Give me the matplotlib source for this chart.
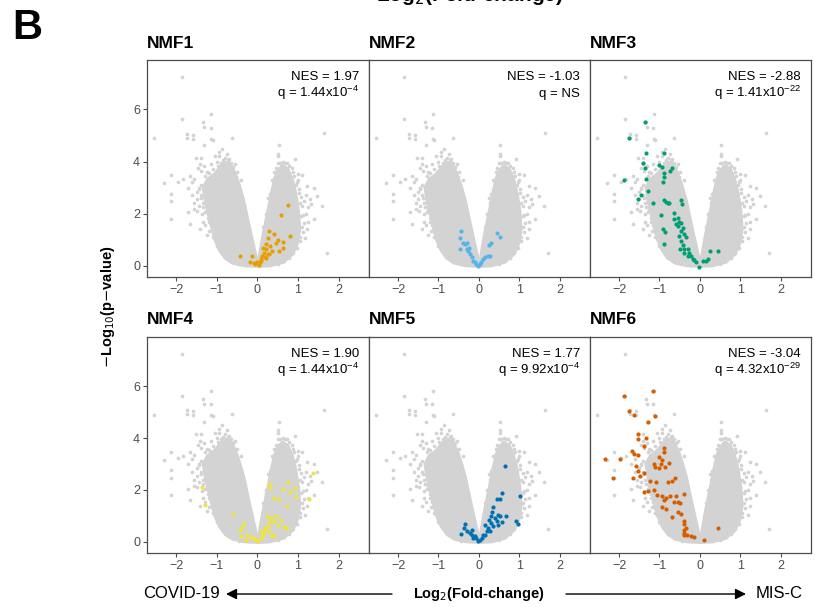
import matplotlib
matplotlib.use("Agg")
import matplotlib.pyplot as plt
from matplotlib.patches import Polygon

plt.rcParams["font.family"] = ["Liberation Sans", "DejaVu Sans"]

# shared gene cloud (same genes in every panel): dense cores + scattered genes
lobe_left_x = [0.00, -0.30, -0.60, -0.78, -0.92, -1.03, -1.10, -1.18, -1.27, -1.32, -1.22, -1.05,
               -0.92, -0.80, -0.68, -0.58, -0.46, -0.35, -0.24, -0.14, -0.06, -0.01]
lobe_left_y = [0.00, 0.02, 0.12, 0.30, 0.60, 1.00, 1.40, 1.90, 2.50, 3.00, 3.30, 3.50,
               3.75, 3.95, 3.90, 3.60, 3.10, 2.50, 1.70, 1.00, 0.45, 0.15]
lobe_right_x = [0.03, 0.07, 0.13, 0.20, 0.28, 0.36, 0.44, 0.52, 0.62, 0.74, 0.84, 0.93,
                1.00, 1.03, 0.97, 0.85, 0.62, 0.30]
lobe_right_y = [0.00, 0.45, 1.00, 1.55, 2.15, 2.80, 3.35, 3.65, 3.82, 3.70, 3.35, 2.80,
                2.10, 1.40, 0.85, 0.45, 0.15, 0.02]

bg_x = [-1.85, -1.86, -1.14, -1.33, -1.32, -1.15, -2.55, -1.74, -1.73, -1.58, -1.58, -1.14, -1.10,
        -0.63, -1.32, -0.86, 1.63, 0.53, 0.52, 0.52, 0.92, -2.12, -2.30, -1.95, -1.84, -2.12,
        -2.12, -2.12, -1.65, -1.56, -1.52, -1.40, -1.42, -1.32, 1.71, 1.60, 1.40, 1.48, 1.23,
        0.99, 1.11, 1.15, 1.32, 1.40, 1.23, 0.91, -1.42, -1.65, -1.56, -1.36, -1.19, -0.95,
        -1.45, -1.40, -1.35, -1.45, -1.25, -1.15, -1.00, -0.95, -0.80, -0.72, -0.55, -0.50,
        -1.25, -1.20, -1.10, -1.00, -0.85, -0.65, -0.45, -1.50, -1.60, -1.30, -0.40,
        0.35, 0.42, 0.55, 0.68, 0.78, 0.88, 0.95, 1.02, 1.05, 1.08, 1.10, 1.05, 0.95, 0.80,
        0.60, 0.20, 0.25, 0.15, 1.20, 1.00,
        -1.47, -1.38, -1.28, -1.20, -1.10, -1.05, -0.98, -0.90, -0.85, -0.70, -0.65, -0.60,
        -0.52, -1.40, -1.45, -1.38, -1.50, -1.33, -1.28, -1.22, -1.15, -1.10, -1.05, -0.98,
        -0.90, -0.80, -0.70, -0.60, -0.45, -1.60, -1.70, -1.55, -1.48, -1.35, -1.30, -1.70,
        -1.25, -0.75, -0.95, -1.05,
        0.45, 0.50, 0.62, 0.72, 0.85, 0.90, 0.98, 1.02, 1.08, 1.10, 1.12, 1.15, 1.12, 1.05,
        0.98, 0.88, 0.78, 0.65, 0.50, 0.30, 0.28, 0.22, 0.18, 0.12, 0.40, 1.20, 1.25, 1.30,
        1.18, 1.25]
bg_y = [7.24, 5.62, 5.81, 5.52, 5.33, 5.30, 4.89, 5.07, 4.92, 5.03, 4.88, 4.88, 4.84,
        4.92, 4.62, 4.50, 5.08, 4.64, 4.30, 4.20, 4.09, 3.47, 3.17, 3.22, 3.32, 2.77,
        2.48, 1.79, 3.45, 3.35, 4.15, 4.15, 3.90, 3.83, 0.51, 2.30, 3.00, 2.68, 3.07,
        3.51, 3.47, 2.49, 2.36, 1.79, 1.40, 1.21, 1.40, 1.60, 2.17, 1.98, 1.34, 0.96,
        3.00, 2.70, 2.40, 2.30, 3.60, 3.90, 4.00, 4.20, 4.15, 4.05, 3.90, 3.60,
        2.15, 1.70, 1.10, 0.75, 0.55, 0.30, 0.10, 2.85, 2.70, 2.90, 3.30,
        3.30, 3.60, 3.95, 3.95, 3.85, 3.60, 3.10, 2.80, 2.40, 1.90, 1.50, 1.10, 0.70, 0.45,
        0.25, 2.00, 2.60, 1.50, 2.00, 3.30,
        3.75, 3.62, 3.45, 3.55, 3.70, 3.45, 3.85, 3.95, 4.05, 4.10, 3.95, 3.80,
        3.40, 3.10, 2.95, 2.60, 2.55, 2.25, 2.05, 1.85, 1.55, 1.30, 1.05, 0.80,
        0.60, 0.40, 0.25, 0.15, 0.05, 3.20, 3.00, 2.40, 2.10, 1.70, 1.55, 2.05,
        1.20, 4.30, 4.35, 4.20,
        3.75, 3.95, 4.00, 3.95, 3.75, 3.45, 3.20, 2.95, 2.65, 2.30, 1.95, 1.65, 1.30, 0.95,
        0.70, 0.50, 0.30, 0.18, 0.08, 2.75, 2.40, 1.85, 1.20, 0.85, 3.30, 2.70, 2.25, 2.55,
        1.05, 1.70]

# highlighted gene-set members per panel
nmf1_x = [0.76, 0.58, 0.29, 0.40, 0.27, 0.52, 0.64, 0.80, 0.45, 0.63, 0.53, 0.31, 0.21, 0.16,
          0.25, 0.12, 0.18, 0.09, 0.29, 0.37, 0.22, 0.14, -0.43, -0.14, -0.18, -0.05, 0.04,
          -0.08, 0.00, 0.10, 0.06, 0.20]
nmf1_y = [2.32, 1.94, 1.34, 1.21, 1.05, 1.00, 0.92, 1.15, 0.86, 0.68, 0.57, 0.77, 0.64, 0.51,
          0.45, 0.38, 0.32, 0.25, 0.45, 0.57, 0.85, 0.70, 0.36, 0.36, 0.13, 0.07, 0.04,
          0.10, 0.13, 0.20, 0.15, 0.30]
nmf2_x = [-0.45, -0.47, -0.39, -0.30, -0.47, -0.30, -0.26, -0.22, -0.18, -0.14, -0.10, -0.06,
          -0.02, 0.02, 0.06, 0.11, 0.16, 0.23, 0.27, 0.46, 0.52, 0.30, 0.25, -0.35, -0.25]
nmf2_y = [1.32, 1.06, 0.87, 0.87, 0.64, 0.64, 0.57, 0.45, 0.32, 0.19, 0.13, 0.06,
          0.00, 0.06, 0.15, 0.25, 0.32, 0.36, 0.38, 1.24, 1.09, 0.86, 0.79, 0.82, 0.70]
nmf3_x = [-1.35, -1.75, -1.34, -0.88, -1.40, -1.36, -1.01, -0.95, -0.68, -0.73, -0.88, -0.90,
          -1.34, -1.87, -0.92, -1.29, -1.46, -1.52, -1.17, -0.88, -0.84, -0.80, -0.76, -0.47,
          -0.45, -0.63, -0.55, -0.63, -0.51, -0.47, -0.55, -0.43, -0.47, -0.39, -0.35, -0.47,
          -0.96, -0.92, -0.87, -0.90, -0.49, -0.39, -0.30, -0.26, -0.22, -0.18, -0.14, -0.10,
          -0.29, -0.39, -0.02, 0.07, 0.15, 0.21, 0.24, 0.45, -0.60, -0.52, -0.42]
nmf3_y = [5.53, 4.92, 4.32, 4.32, 3.93, 3.77, 3.87, 3.81, 3.74, 3.63, 3.55, 3.42,
          3.35, 3.28, 3.22, 2.87, 2.72, 2.55, 2.40, 2.52, 2.46, 2.42, 2.40, 2.52,
          2.36, 2.02, 1.85, 1.79, 1.69, 1.66, 1.53, 1.47, 1.34, 1.21, 1.09, 0.96,
          1.94, 1.43, 1.30, 0.83, 0.64, 0.66, 0.64, 0.51, 0.38, 0.28, 0.23, 0.13,
          0.36, 0.49, -0.03, 0.19, 0.19, 0.26, 0.57, 0.57, 1.60, 1.15, 0.80]
nmf4_x = [-1.37, -1.29, 1.38, 1.26, 0.29, 0.31, 0.76, 0.93, 0.62, 0.80, 0.40, 0.53, 0.95, 0.72,
          0.23, 0.33, 0.45, 0.29, 0.41, 0.58, 0.51, 0.66, 0.74, 0.25, 0.16, 0.29, 0.41, 0.37,
          0.15, 0.08, 0.02, -0.04, -0.08, -0.16, -0.25, -0.37, -0.33, -0.43, -0.59, -0.41,
          -0.29, 0.18, 0.10]
nmf4_y = [2.13, 1.43, 2.64, 1.64, 2.25, 2.06, 2.32, 2.06, 2.04, 1.94, 1.71, 1.66, 1.72, 1.40,
          0.98, 0.92, 0.98, 0.76, 0.82, 0.85, 0.66, 0.56, 0.54, 0.60, 0.41, 0.41, 0.28, 0.24,
          0.25, 0.15, 0.05, 0.09, 0.15, 0.18, 0.25, 0.56, 0.73, 0.47, 1.07, 0.22,
          0.09, 0.54, 0.38]
nmf5_x = [0.64, 1.01, 0.58, 0.46, 0.53, 0.35, 0.33, 0.48, 0.52, 0.39, 0.31, 0.25, 0.44, 0.56,
          0.68, 0.48, 0.35, 0.23, 0.30, 0.15, 0.19, 0.11, 0.07, 0.02, -0.02, -0.06, -0.10,
          -0.14, -0.18, -0.22, -0.16, -0.34, -0.36, -0.30, -0.45, 0.15, 0.27, 0.93, 0.97]
nmf5_y = [2.93, 1.78, 1.90, 1.64, 1.64, 1.36, 1.17, 1.04, 0.98, 0.92, 0.98, 0.85, 0.79, 0.76,
          0.98, 0.66, 0.60, 0.54, 0.73, 0.66, 0.41, 0.25, 0.15, 0.09, 0.05, 0.13, 0.22,
          0.15, 0.25, 0.34, 0.47, 0.69, 0.54, 0.43, 0.31, 0.28, 0.41, 0.82, 0.69]
nmf6_x = [-1.15, -1.87, -1.76, -1.62, -1.11, -1.28, -1.54, -1.53, -1.34, -1.38, -1.68, -1.62,
          -1.53, -2.34, -1.98, -0.88, -0.88, -1.01, -0.95, -0.76, -1.13, -1.11, -0.96, -0.87,
          -1.01, -1.58, -1.53, -1.49, -1.39, -1.65, -2.14, -1.23, -1.09, -0.80, -0.68, -0.62,
          -1.28, -1.38, -1.13, -1.05, -0.95, -0.84, -0.88, -0.73, -0.59, -0.54, -0.49, -0.64,
          -0.40, -0.95, -0.84, -0.69, -0.55, -0.47, -0.39, -0.40, -0.35, -0.40, -0.31, -0.22,
          -0.14, 0.09, -0.39, -0.39, 0.45]
nmf6_y = [5.82, 5.61, 5.06, 4.89, 4.87, 4.64, 4.17, 3.97, 4.01, 3.68, 3.49, 3.40,
          3.34, 3.18, 3.18, 3.63, 3.46, 3.27, 3.17, 3.06, 2.99, 2.89, 2.99, 2.89,
          2.83, 2.93, 2.73, 2.55, 2.66, 2.47, 2.48, 2.34, 2.29, 2.32, 2.34, 2.45,
          1.96, 1.91, 2.00, 1.81, 1.78, 1.68, 1.62, 1.75, 1.75, 1.55, 1.50, 1.53,
          1.83, 1.36, 1.27, 0.94, 1.17, 1.07, 0.82, 0.69, 0.54, 0.34, 0.25, 0.22,
          0.18, 0.06, 0.45, 0.28, 0.54]

titles = ["NMF1", "NMF2", "NMF3", "NMF4", "NMF5", "NMF6"]
nes = ["1.97", "-1.03", "-2.88", "1.90", "1.77", "-3.04"]
q_vals = [r"q = 1.44x10$^{\mathregular{-4}}$", "q = NS", r"q = 1.41x10$^{\mathregular{-22}}$",
          r"q = 1.44x10$^{\mathregular{-4}}$", r"q = 9.92x10$^{\mathregular{-4}}$",
          r"q = 4.32x10$^{\mathregular{-29}}$"]
hi_x = [nmf1_x, nmf2_x, nmf3_x, nmf4_x, nmf5_x, nmf6_x]
hi_y = [nmf1_y, nmf2_y, nmf3_y, nmf4_y, nmf5_y, nmf6_y]
colors = ["#E69F00", "#56B4E9", "#009E73", "#F0E442", "#0072B2", "#D55E00"]

W, H = 815, 607
fig = plt.figure(figsize=(W / 100, H / 100), dpi=100)

grey = "#D3D3D3"
lefts = [147, 369, 590]
rights = [369, 590, 811]
tops = [60, 337]
bottoms = [277, 553]

for i in range(6):
    r, c = divmod(i, 3)
    ph = bottoms[r] - tops[r]
    ax = fig.add_axes([lefts[c] / W, 1 - bottoms[r] / H, (rights[c] - lefts[c]) / W, ph / H])
    for lx, ly in [(lobe_left_x, lobe_left_y), (lobe_right_x, lobe_right_y)]:
        ax.add_patch(Polygon(list(zip(lx, ly)), closed=True, facecolor=grey,
                             edgecolor=grey, lw=3, joinstyle="round", zorder=1))
    ax.scatter(bg_x, bg_y, s=7, color=grey, linewidths=0, zorder=2)
    ax.scatter(hi_x[i], hi_y[i], s=9, color=colors[i], linewidths=0, zorder=3)
    ax.set_xlim(-2.72, 2.75)
    ax.set_ylim(-0.43, 7.9)
    ax.set_xticks([-2, -1, 0, 1, 2])
    ax.set_yticks([0, 2, 4, 6])
    ax.tick_params(colors="#4D4D4D", labelsize=9, length=3, width=0.8, pad=2)
    if c > 0:
        ax.tick_params(axis="y", left=False, labelleft=False)
    for sp in ax.spines.values():
        sp.set_color("#4D4D4D")
        sp.set_linewidth(0.9)
    ax.text(0.955, 1 - 20 / ph, "NES = " + nes[i], transform=ax.transAxes, ha="right",
            va="baseline", fontsize=9.5)
    ax.text(0.955, 1 - 37 / ph, q_vals[i], transform=ax.transAxes, ha="right",
            va="baseline", fontsize=9.5)
    fig.text(lefts[c] / W, 1 - (tops[r] - 17) / H, titles[i], ha="left", va="center",
             fontsize=12.5, fontweight="bold")

fig.text(12 / W, 1 - 28 / H, "B", fontsize=30, fontweight="bold", ha="left", va="center")
fig.text(470 / W, 1 + 4 / H, r"Log$_2$(Fold-change)", fontsize=15, fontweight="bold",
         ha="center", va="center")
fig.text(108 / W, 1 - 307 / H, r"$-$Log$_{10}$(p$-$value)", rotation=90, fontsize=10.5,
         fontweight="bold", ha="center", va="center")

yb = 1 - 594 / H
fig.text(182 / W, yb, "COVID-19", fontsize=12, ha="center", va="center")
fig.text(479 / W, yb, r"Log$_2$(Fold-change)", fontsize=10.5, fontweight="bold",
         ha="center", va="center")
fig.text(779 / W, yb, "MIS-C", fontsize=12, ha="center", va="center")
arrow = dict(arrowstyle="-|>", color="black", lw=1, mutation_scale=16, shrinkA=0, shrinkB=0)
fig.add_artist(plt.Annotation("", xy=(226 / W, yb), xytext=(392 / W, yb),
                              xycoords="figure fraction", textcoords="figure fraction",
                              arrowprops=arrow))
fig.add_artist(plt.Annotation("", xy=(746 / W, yb), xytext=(566 / W, yb),
                              xycoords="figure fraction", textcoords="figure fraction",
                              arrowprops=arrow))

fig.savefig("out.png", dpi=100)
